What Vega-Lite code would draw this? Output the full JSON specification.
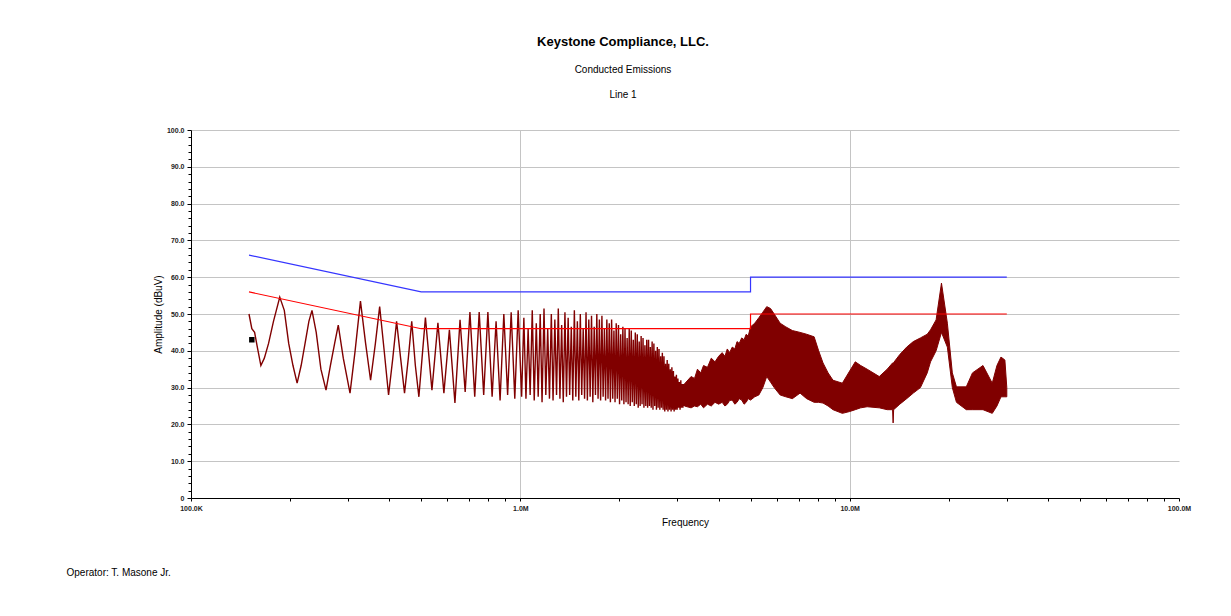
{
  "$schema": "https://vega.github.io/schema/vega-lite/v6.json",
  "width": 988,
  "height": 368,
  "autosize": {"type": "none"},
  "padding": {"left": 191, "top": 130, "right": 52, "bottom": 118},
  "background": "white",
  "title": {
    "text": "Keystone Compliance, LLC.",
    "subtitle": ["Conducted Emissions", "Line 1"],
    "anchor": "middle",
    "dx": -62,
    "offset": 26,
    "font": "Liberation Sans",
    "fontSize": 13,
    "fontWeight": "bold",
    "color": "black",
    "subtitleFont": "Liberation Sans",
    "subtitleFontSize": 10,
    "subtitleColor": "black",
    "subtitleLineHeight": 25,
    "subtitlePadding": 16
  },
  "datasets": {
    "trace": [
      {"f":150,"db":50},{"f":153,"db":46},{"f":156,"db":45},{"f":159,"db":41},{"f":163,"db":36},{"f":167,"db":38},{"f":172,"db":42},{"f":178,"db":48},{"f":186,"db":54.6},{"f":192,"db":51},{"f":198,"db":42},{"f":204,"db":36},{"f":210,"db":31.2},{"f":216,"db":36},{"f":222,"db":42},{"f":228,"db":48},{"f":233,"db":51},{"f":240,"db":45},{"f":248,"db":35},{"f":257,"db":29.3},{"f":265,"db":36},{"f":273,"db":42},{"f":280,"db":47},{"f":290,"db":38},{"f":304,"db":28.5},{"f":315,"db":40},{"f":327,"db":53.5},{"f":339,"db":42},{"f":351,"db":32},{"f":363,"db":42},{"f":374,"db":52},{"f":386,"db":40},{"f":398,"db":28},{"f":410,"db":38},{"f":421,"db":48},{"f":433,"db":38},{"f":445,"db":28.5},{"f":457,"db":38},{"f":468,"db":48},{"f":480,"db":36},{"f":492,"db":27.5},{"f":503,"db":38},{"f":515,"db":49},{"f":539,"db":29.3},{"f":562,"db":47.6},{"f":586,"db":28.5},{"f":609,"db":45.7},{"f":633,"db":25.8},{"f":656,"db":48.4},{"f":680,"db":28.8},{"f":703,"db":50.5},{"f":727,"db":27.5},{"f":750,"db":50.5},{"f":774,"db":28},{"f":797,"db":50.5},{"f":821,"db":27.5},{"f":844,"db":48},{"f":868,"db":26.5},{"f":891,"db":50},{"f":915,"db":28},{"f":938,"db":50.5},{"f":962,"db":27},{"f":985,"db":51},
      {"f":1009,"db":27.5},{"f":1025,"db":49},{"f":1040,"db":27},{"f":1056,"db":46},{"f":1071,"db":28},{"f":1087,"db":51},{"f":1102,"db":26.5},{"f":1118,"db":47.5},{"f":1133,"db":27.5},{"f":1149,"db":50},{"f":1164,"db":26},{"f":1180,"db":51.5},{"f":1195,"db":28},{"f":1211,"db":46},{"f":1226,"db":27},{"f":1242,"db":50},{"f":1257,"db":26.5},{"f":1273,"db":48.5},{"f":1288,"db":28},{"f":1304,"db":51.5},{"f":1319,"db":27},{"f":1335,"db":47},{"f":1350,"db":26},{"f":1366,"db":50.5},{"f":1381,"db":27.5},{"f":1397,"db":49},{"f":1412,"db":28},{"f":1428,"db":46.5},{"f":1443,"db":26.5},{"f":1459,"db":51},{"f":1474,"db":27.5},{"f":1490,"db":48},{"f":1505,"db":26.5},{"f":1521,"db":50},{"f":1536,"db":28},{"f":1552,"db":46},{"f":1567,"db":27},{"f":1583,"db":50.5},{"f":1598,"db":26.5},{"f":1614,"db":48.5},{"f":1629,"db":27.5},{"f":1645,"db":49.5},{"f":1660,"db":26},{"f":1676,"db":46.5},{"f":1691,"db":28},{"f":1707,"db":50},{"f":1722,"db":27},{"f":1738,"db":48.5},{"f":1753,"db":26.5},{"f":1769,"db":49.5},{"f":1784,"db":27.5},{"f":1800,"db":46},{"f":1815,"db":26.5},{"f":1831,"db":48.5},{"f":1846,"db":27},{"f":1862,"db":47.5},{"f":1877,"db":26},{"f":1893,"db":48.5},{"f":1908,"db":27},{"f":1924,"db":45.5},{"f":1939,"db":26},{"f":1955,"db":47.5},{"f":1970,"db":27},{"f":1986,"db":47},{"f":2001,"db":25.5},{"f":2017,"db":44.5},{"f":2032,"db":26.5},{"f":2048,"db":46.5},{"f":2063,"db":25.5},{"f":2079,"db":46},{"f":2094,"db":26},{"f":2110,"db":43.5},{"f":2125,"db":25.5},{"f":2141,"db":46},{"f":2156,"db":25},{"f":2172,"db":45.5},{"f":2187,"db":26},{"f":2203,"db":43},{"f":2218,"db":25},{"f":2234,"db":45},{"f":2249,"db":25.5},{"f":2265,"db":44.5},{"f":2280,"db":24.5},{"f":2296,"db":42.5},{"f":2311,"db":25},{"f":2327,"db":44},{"f":2342,"db":25.5},{"f":2358,"db":43.5},{"f":2373,"db":24.5},{"f":2389,"db":41.5},{"f":2404,"db":25},{"f":2420,"db":43},{"f":2435,"db":24.5},{"f":2451,"db":43},{"f":2466,"db":25},{"f":2482,"db":41},{"f":2497,"db":24.5},{"f":2513,"db":42.5},{"f":2528,"db":24},{"f":2544,"db":42},{"f":2559,"db":25},{"f":2575,"db":40},{"f":2590,"db":24},{"f":2606,"db":41},{"f":2621,"db":24.5},{"f":2637,"db":40.5},{"f":2652,"db":24},{"f":2668,"db":38.5},{"f":2683,"db":24.5},{"f":2699,"db":39.5},{"f":2714,"db":24},{"f":2730,"db":38.5},{"f":2745,"db":23.5},{"f":2761,"db":36.5},{"f":2776,"db":24},{"f":2792,"db":37.5},{"f":2807,"db":23.5},{"f":2823,"db":36.5},{"f":2838,"db":24},{"f":2854,"db":35},{"f":2869,"db":23.5},{"f":2885,"db":35.5},{"f":2900,"db":24},{"f":2916,"db":34.5},{"f":2931,"db":23.5},{"f":2947,"db":33},{"f":2962,"db":24},{"f":2978,"db":33.5},{"f":2993,"db":24},{"f":3009,"db":32.5},{"f":3024,"db":24.5},{"f":3040,"db":31.5},{"f":3055,"db":24},{"f":3071,"db":32},{"f":3086,"db":24.5},{"f":3102,"db":31},{"f":3117,"db":24.5},{"f":3133,"db":31},{"f":3148,"db":25},{"f":3164,"db":30.5},{"f":3170,"db":25}
    ],
    "band": [
      {"f":3150,"lo":25,"db":31},{"f":3300,"lo":24.5,"db":33},{"f":3380,"lo":25,"db":32.5},{"f":3450,"lo":24.8,"db":35},{"f":3530,"lo":25.5,"db":34},{"f":3600,"lo":24.5,"db":36},{"f":3700,"lo":25.5,"db":35.5},{"f":3800,"lo":25,"db":38},{"f":3900,"lo":26,"db":37},{"f":4000,"lo":25.5,"db":38.5},{"f":4100,"lo":26,"db":39.5},{"f":4180,"lo":25,"db":38.5},{"f":4250,"lo":25.5,"db":40.5},{"f":4320,"lo":26.5,"db":39.5},{"f":4400,"lo":26.6,"db":41},{"f":4480,"lo":25.5,"db":40.5},{"f":4550,"lo":26,"db":42.5},{"f":4620,"lo":27,"db":42},{"f":4700,"lo":26.6,"db":43.5},{"f":4780,"lo":25.5,"db":43},{"f":4850,"lo":26,"db":44.5},{"f":4920,"lo":27,"db":44},{"f":5000,"lo":26.6,"db":46.5},{"f":5150,"lo":27.5,"db":47.5},{"f":5300,"lo":28,"db":49},{"f":5450,"lo":30,"db":50.5},{"f":5600,"lo":33,"db":52},{"f":5750,"lo":31.5,"db":51.5},{"f":5900,"lo":30,"db":50},{"f":6150,"lo":28,"db":47.5},{"f":6400,"lo":27.5,"db":46.5},{"f":6700,"lo":27,"db":45.5},{"f":7070,"lo":28.5,"db":45},{"f":7400,"lo":27,"db":44.5},{"f":7800,"lo":26,"db":43.8},{"f":8050,"lo":26,"db":40},{"f":8300,"lo":25.8,"db":36.7},{"f":8600,"lo":25,"db":34},{"f":8900,"lo":24,"db":32},{"f":9500,"lo":23,"db":31.2},{"f":10000,"lo":23.5,"db":34.5},{"f":10400,"lo":24,"db":37},{"f":10800,"lo":24.5,"db":36},{"f":11300,"lo":24.8,"db":35},{"f":12300,"lo":24.5,"db":33},{"f":13000,"lo":24,"db":35},{"f":13500,"lo":24,"db":36.7},{"f":13550,"lo":20.4,"db":36.7},{"f":13600,"lo":24,"db":36.8},{"f":14200,"lo":25.5,"db":39},{"f":14900,"lo":27,"db":41},{"f":15600,"lo":28.5,"db":42.5},{"f":16400,"lo":30,"db":43.5},{"f":17200,"lo":34,"db":44.5},{"f":17600,"lo":37,"db":45.7},{"f":18300,"lo":40,"db":48.4},{"f":19000,"lo":45,"db":58.4},{"f":19800,"lo":41,"db":47.5},{"f":20500,"lo":30,"db":34},{"f":21100,"lo":26,"db":30.2},{"f":22600,"lo":24,"db":30.2},{"f":23600,"lo":24,"db":34},{"f":25400,"lo":24,"db":36},{"f":27100,"lo":23,"db":31.2},{"f":28000,"lo":25,"db":36},{"f":28800,"lo":27.5,"db":38.3},{"f":29600,"lo":27.5,"db":37.5},{"f":30000,"lo":27.5,"db":30}
    ],
    "limits": [
      {"limit":"QP","i":0,"f":150,"db":66},{"limit":"QP","i":1,"f":500,"db":56},{"limit":"QP","i":2,"f":5000,"db":56},{"limit":"QP","i":3,"f":5000,"db":60},{"limit":"QP","i":4,"f":30000,"db":60},
      {"limit":"AVG","i":0,"f":150,"db":56},{"limit":"AVG","i":1,"f":500,"db":46},{"limit":"AVG","i":2,"f":5000,"db":46},{"limit":"AVG","i":3,"f":5000,"db":50},{"limit":"AVG","i":4,"f":30000,"db":50}
    ],
    "marker": [{"f":153,"db":43}]
  },
  "resolve": {"axis": {"x": "independent", "y": "independent"}},
  "layer": [
    {
      "layer": [
        {
          "data": {"name": "band"},
          "mark": {"type": "area", "color": "#800000", "stroke": "#800000", "strokeWidth": 1, "opacity": 1},
          "encoding": {
            "x": {
              "field": "f", "type": "quantitative",
              "scale": {"type": "log", "domain": [100, 100000]},
              "axis": {
                "values": [100,200,300,400,500,600,700,800,900,1000,2000,3000,4000,5000,6000,7000,8000,9000,10000,20000,30000,40000,50000,60000,70000,80000,90000,100000],
                "tickCount": 200,
                "labelExpr": "datum.value == 100 ? '100.0K' : datum.value == 1000 ? '1.0M' : datum.value == 10000 ? '10.0M' : datum.value == 100000 ? '100.0M' : ''",
                "title": "Frequency",
                "tickSize": 3,
                "labelPadding": 3,
                "titlePadding": 6,
                "labelOverlap": false,
                "labelFlush": false,
                "gridOpacity": {"condition": {"test": "datum.value == 1000 || datum.value == 10000", "value": 1}, "value": 0}
              }
            },
            "y": {
              "field": "db", "type": "quantitative",
              "scale": {"domain": [0, 100], "nice": false, "zero": false},
              "axis": {
                "values": [0,10,20,30,40,50,60,70,80,90,100],
                "tickCount": 200,
                "labelExpr": "datum.value == 0 ? '0' : format(datum.value, '.1f')",
                "title": "Amplitude (dBuV)",
                "tickSize": 4,
                "labelPadding": 3,
                "titlePadding": 3,
                "labelOverlap": false,
                "grid": true
              }
            },
            "y2": {"field": "lo"}
          }
        },
        {
          "data": {"name": "trace"},
          "mark": {"type": "line", "color": "#800000", "strokeWidth": 1.4},
          "encoding": {
            "x": {"field": "f", "type": "quantitative"},
            "y": {"field": "db", "type": "quantitative"}
          }
        },
        {
          "data": {"name": "limits"},
          "mark": {"type": "line", "strokeWidth": 1.2},
          "encoding": {
            "x": {"field": "f", "type": "quantitative"},
            "y": {"field": "db", "type": "quantitative"},
            "order": {"field": "i", "type": "quantitative"},
            "color": {"field": "limit", "type": "nominal", "scale": {"domain": ["QP", "AVG"], "range": ["#3535ff", "#ff0000"]}, "legend": null}
          }
        }
      ]
    },
    {
      "data": {"name": "marker"},
      "mark": {"type": "square", "color": "black", "opacity": 1, "size": 30},
      "encoding": {
        "x": {
          "field": "f", "type": "quantitative",
          "axis": {
            "orient": "bottom",
            "labels": false, "domain": false, "grid": false, "ticks": false,
            "title": "Operator: T. Masone Jr.",
            "titleX": -125, "titleY": 74, "titleAlign": "left", "titleBaseline": "middle", "titleAngle": 0
          }
        },
        "y": {
          "field": "db", "type": "quantitative",
          "axis": {
            "orient": "left",
            "values": [2,4,6,8,12,14,16,18,22,24,26,28,32,34,36,38,42,44,46,48,52,54,56,58,62,64,66,68,72,74,76,78,82,84,86,88,92,94,96,98],
            "tickCount": 200,
            "labels": false, "domain": false, "grid": false, "ticks": true, "tickSize": 3, "title": null
          }
        }
      }
    }
  ],
  "config": {
    "view": {"stroke": null},
    "axis": {
      "labelFont": "Liberation Sans",
      "labelFontSize": 7,
      "labelFontWeight": "bold",
      "labelColor": "#222222",
      "titleFont": "Liberation Sans",
      "titleFontSize": 10,
      "titleFontWeight": "normal",
      "titleColor": "black",
      "domainColor": "black",
      "domainWidth": 1,
      "tickColor": "black",
      "tickWidth": 1,
      "gridColor": "#c4c4c4",
      "gridWidth": 1
    }
  }
}
